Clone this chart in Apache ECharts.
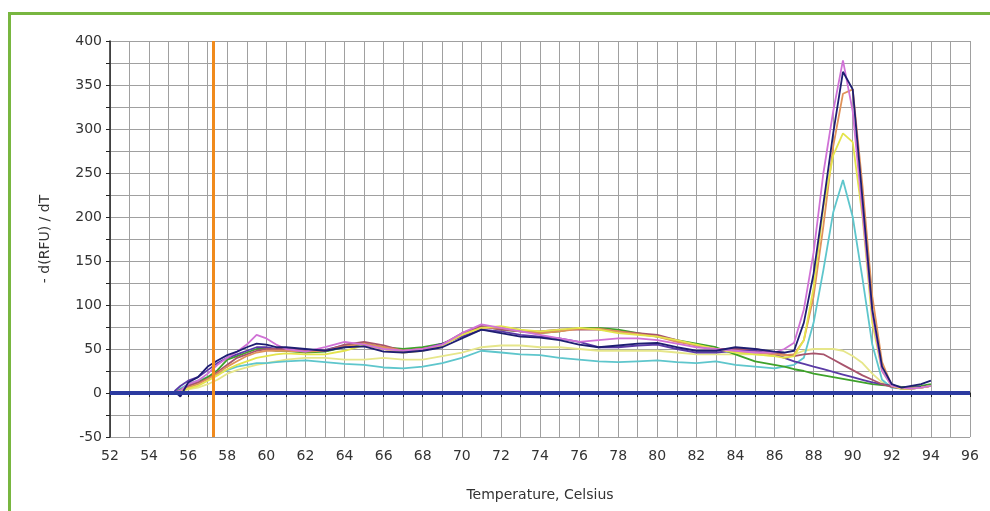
<!DOCTYPE html>
<html>
<head>
<meta charset="utf-8">
<script src="https://cdn.jsdelivr.net/npm/echarts@6/dist/echarts.min.js"></script>
<style>
  html, body { margin: 0; padding: 0; background: #fff; }
  #chart { width: 990px; height: 511px; }
</style>
</head>
<body>
<div id="chart"></div>
<script>
// temperatures shared by every curve
var temps = [55.3, 55.6, 56, 56.5, 57, 57.5, 58, 58.5, 59, 59.5,
  60, 60.5, 61, 62, 63, 64, 65, 66, 67, 68,
  69, 70, 71, 72, 73, 74, 75, 76, 77, 78,
  79, 80, 81, 82, 83, 84, 85, 86, 86.5, 87,
  87.5, 88, 88.5, 89, 89.5, 90, 90.5, 91, 91.5, 92,
  92.5, 93, 93.5, 94];

// -d(RFU)/dT, one array per well
var paleYellow = [0, 2, 4, 6, 10, 15, 22, 26, 29, 32,
  34, 36, 38, 40, 40, 38, 38, 40, 38, 38,
  42, 46, 52, 54, 54, 52, 52, 50, 48, 48,
  48, 48, 46, 44, 44, 44, 44, 42, 42, 44,
  48, 50, 50, 50, 48, 42, 34, 22, 12, 8,
  6, 6, 7, 8];
var cyan = [0, 5, 10, 14, 18, 22, 26, 30, 32, 34,
  34, 35, 36, 37, 35, 33, 32, 29, 28, 30,
  34, 40, 48, 46, 44, 43, 40, 38, 36, 35,
  36, 37, 35, 34, 36, 32, 30, 28, 30, 32,
  40, 80, 140, 205, 242, 200, 130, 55, 15, 6,
  5, 5, 6, 8];
var green = [0, 4, 8, 12, 18, 26, 38, 42, 46, 50,
  50, 48, 48, 46, 47, 52, 56, 52, 50, 52,
  56, 66, 76, 72, 70, 68, 70, 74, 74, 72,
  68, 64, 60, 56, 52, 44, 36, 32, 30, 27,
  25, 22, 20, 18, 16, 14, 12, 10, 9, 8,
  7, 7, 8, 10];
var purple = [2, 8, 14, 18, 26, 34, 40, 44, 48, 52,
  52, 50, 50, 48, 49, 54, 57, 50, 47, 50,
  56, 64, 72, 70, 66, 64, 62, 58, 52, 52,
  54, 55, 50, 46, 46, 48, 48, 44, 40, 36,
  33, 30, 27, 24, 21, 18, 15, 12, 10, 8,
  6, 6, 7, 8];
var mauve = [0, 3, 8, 12, 16, 24, 32, 40, 44, 48,
  50, 50, 50, 48, 48, 55, 58, 54, 48, 50,
  55, 68, 76, 72, 70, 70, 72, 72, 72, 70,
  68, 66, 60, 54, 50, 50, 50, 46, 44, 42,
  44, 45, 44, 38, 32, 26, 20, 15, 10, 7,
  5, 5, 6, 8];
var orange = [0, 2, 6, 10, 16, 22, 30, 36, 42, 46,
  48, 48, 48, 47, 48, 53, 56, 52, 48, 50,
  54, 66, 74, 74, 70, 68, 70, 73, 73, 70,
  67, 64, 58, 54, 50, 47, 46, 44, 43, 44,
  60, 110, 190, 280, 340, 345, 235, 110, 35, 8,
  5, 5, 6, 8];
var yellow = [0, 2, 5, 8, 14, 20, 27, 32, 36, 40,
  42, 44, 45, 44, 44, 48, 54, 50, 46, 48,
  54, 66, 74, 76, 72, 70, 72, 74, 72, 68,
  66, 64, 60, 55, 50, 46, 44, 42, 40, 42,
  60, 120, 211, 270, 295, 285, 200, 80, 25, 8,
  5, 5, 6, 8];
var pink = [0, 3, 10, 14, 22, 32, 40, 47, 55, 66,
  62, 55, 50, 47, 52, 58, 55, 50, 48, 50,
  55, 68, 78, 74, 70, 66, 62, 58, 60, 62,
  62, 60, 56, 52, 50, 48, 46, 46, 50, 57,
  95, 160, 250, 320, 378, 320, 205, 90, 25, 8,
  6, 5, 6, 8];
var navy = [2, -4, 12, 18, 30, 37, 43, 47, 52, 56,
  55, 52, 52, 50, 48, 52, 53, 47, 46, 48,
  52, 62, 72, 68, 64, 63, 60, 55, 52, 54,
  56, 57, 52, 48, 48, 52, 50, 47, 46, 48,
  80, 136, 215, 295, 365, 345, 220, 95, 30, 10,
  6, 8, 10, 14];

var meltLine = 57.3;
var baseLine = 0;

var wells = [
  { name: 'pale yellow', data: paleYellow, color: '#e6e68a' },
  { name: 'cyan', data: cyan, color: '#5ec6cc' },
  { name: 'green', data: green, color: '#3ea22a' },
  { name: 'purple', data: purple, color: '#5a3aa6' },
  { name: 'mauve', data: mauve, color: '#a8546c' },
  { name: 'orange', data: orange, color: '#e0925a' },
  { name: 'yellow', data: yellow, color: '#e4e44c' },
  { name: 'pink', data: pink, color: '#d072d6' },
  { name: 'navy', data: navy, color: '#1e1e72' }
];

var chart = echarts.init(document.getElementById('chart'));

var series = wells.map(function(w) {
  return {
    name: w.name,
    type: 'line',
    symbol: 'none',
    lineStyle: { color: w.color, width: 1.8 },
    data: temps.map(function(t, i) { return [t, w.data[i]]; }),
    z: 3
  };
});

// baseline at 0 and the orange marker line
series.push({
  type: 'line',
  data: [],
  markLine: {
    silent: true,
    symbol: 'none',
    label: { show: false },
    data: [
      { yAxis: baseLine, lineStyle: { color: '#2b3aa0', width: 4, type: 'solid' } },
      { xAxis: meltLine, lineStyle: { color: '#f08a1c', width: 3, type: 'solid' } }
    ]
  },
  z: 2
});

var option = {
  animation: false,
  backgroundColor: '#fff',
  graphic: [{
    type: 'rect',
    left: 7, top: 11,
    shape: { width: 1010, height: 520 },
    style: { fill: 'none', stroke: '#78b640', lineWidth: 3 }
  }],
  grid: { left: 110, right: 20, top: 41, bottom: 74 },
  xAxis: {
    type: 'value',
    min: 52, max: 96, interval: 1,
    name: 'Temperature, Celsius',
    nameLocation: 'middle',
    nameGap: 51,
    nameTextStyle: { color: '#333', fontSize: 14, fontFamily: 'DejaVu Sans' },
    axisLine: { lineStyle: { color: '#222', width: 1.5 } },
    axisTick: { show: true, length: 4, lineStyle: { color: '#222' } },
    axisLabel: {
      color: '#333', fontSize: 14, fontFamily: 'DejaVu Sans', margin: 12,
      formatter: function(v) { return v % 2 === 0 ? String(v) : ''; }
    },
    splitLine: { show: true, lineStyle: { color: '#a0a0a0', width: 1 } }
  },
  yAxis: {
    type: 'value',
    min: -50, max: 400, interval: 25,
    name: '- d(RFU) / dT',
    nameLocation: 'middle',
    nameGap: 58,
    nameRotate: 90,
    nameTextStyle: { color: '#333', fontSize: 14, fontFamily: 'DejaVu Sans' },
    axisLine: { show: true, lineStyle: { color: '#222', width: 1.5 } },
    axisTick: { show: true, length: 4, lineStyle: { color: '#222' } },
    axisLabel: {
      color: '#333', fontSize: 14, fontFamily: 'DejaVu Sans', margin: 8,
      formatter: function(v) { return v % 50 === 0 ? String(v) : ''; }
    },
    splitLine: { show: true, lineStyle: { color: '#a0a0a0', width: 1 } }
  },
  series: series
};

chart.setOption(option);
</script>
</body>
</html>
